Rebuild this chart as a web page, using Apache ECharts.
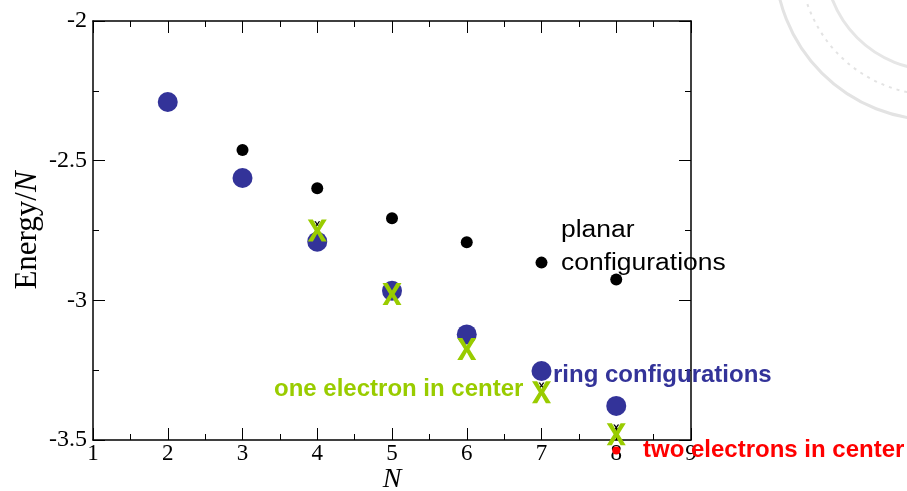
<!DOCTYPE html>
<html>
<head>
<meta charset="utf-8">
<script src="https://cdn.jsdelivr.net/npm/echarts@6/dist/echarts.min.js"></script>
<style>
  html, body { margin: 0; padding: 0; background: #fff; }
  #chart { width: 907px; height: 491px; }
</style>
</head>
<body>
<div id="chart"></div>
<script>
// energies per particle
var nRing = [2, 3, 4, 5, 6, 7, 8];
var eRing = [-2.29, -2.562, -2.79, -2.966, -3.122, -3.253, -3.378];

var nPlanar = [3, 4, 5, 6, 7, 8];
var ePlanar = [-2.462, -2.599, -2.706, -2.792, -2.865, -2.925];

var nOneCenter = [4, 5, 6, 7, 8];
var eOneCenter = [-2.75, -2.977, -3.174, -3.329, -3.479];

// small black crosses peeking out behind the green X marks
var nCross = [4, 7, 8];
var eCross = [-2.728, -3.305, -3.455];

var nTwoCenter = [8];
var eTwoCenter = [-3.538];

var xTicks = [1, 9];   // N axis range
var yTicks = [-3.5, -2]; // energy axis range

function pairs(xs, ys) {
  return xs.map(function (x, i) { return [x, ys[i]]; });
}

var serif = '"Liberation Serif", "DejaVu Serif", serif';
var sans = '"Liberation Sans", Arial, sans-serif';
var xMark = 'path://M0,0 H2.7 L5,3.5 L7.3,0 H10 L6.4,5 L10,10 H7.3 L5,6.5 L2.7,10 H0 L3.6,5 Z';

var frameLine = { lineStyle: { color: '#000', width: 1.5 } };
var majorTick = { inside: true, length: 12, lineStyle: { color: '#000', width: 1 } };
var minorTick = { show: true, splitNumber: 2, length: 6, lineStyle: { color: '#000', width: 1 } };

var chart = echarts.init(document.getElementById('chart'));

chart.setOption({
  animation: false,
  backgroundColor: '#fff',
  grid: { left: 93, top: 21, right: 216, bottom: 51, outerBoundsMode: 'none', containLabel: false },
  xAxis: [{
    type: 'value', position: 'bottom',
    min: xTicks[0], max: xTicks[1], interval: 1,
    axisLine: frameLine, axisTick: majorTick, minorTick: minorTick,
    splitLine: { show: false },
    axisLabel: { fontFamily: serif, fontSize: 23, color: '#000', margin: 2 },
    name: 'N', nameLocation: 'middle', nameGap: 26, nameMoveOverlap: false,
    nameTextStyle: { fontFamily: serif, fontStyle: 'italic', fontSize: 28, color: '#000' }
  }, {
    type: 'value', position: 'top',
    min: xTicks[0], max: xTicks[1], interval: 1,
    axisLine: frameLine, axisTick: majorTick, minorTick: minorTick,
    splitLine: { show: false }, axisLabel: { show: false }
  }],
  yAxis: [{
    type: 'value', position: 'left',
    min: yTicks[0], max: yTicks[1], interval: 0.5,
    axisLine: frameLine, axisTick: majorTick, minorTick: minorTick,
    splitLine: { show: false },
    axisLabel: { fontFamily: serif, fontSize: 24, color: '#000', margin: 6 },
    name: 'Energy/{i|N}', nameLocation: 'middle', nameGap: 50, nameMoveOverlap: false,
    nameTextStyle: {
      fontFamily: serif, fontSize: 31, color: '#000',
      rich: { i: { fontFamily: serif, fontStyle: 'italic', fontSize: 31, color: '#000' } }
    }
  }, {
    type: 'value', position: 'right',
    min: yTicks[0], max: yTicks[1], interval: 0.5,
    axisLine: frameLine, axisTick: majorTick, minorTick: minorTick,
    splitLine: { show: false }, axisLabel: { show: false }
  }],
  series: [{
    name: 'ring configurations', type: 'scatter', clip: false, silent: true,
    symbolSize: 20, itemStyle: { color: '#333399', opacity: 1 },
    data: pairs(nRing, eRing)
  }, {
    name: 'planar configurations', type: 'scatter', clip: false, silent: true,
    symbolSize: 12, itemStyle: { color: '#000', opacity: 1 },
    data: pairs(nPlanar, ePlanar)
  }, {
    name: 'cross', type: 'scatter', clip: false, silent: true,
    symbol: xMark, symbolSize: [6, 6], itemStyle: { color: '#000', opacity: 1 },
    data: pairs(nCross, eCross)
  }, {
    name: 'one electron in center', type: 'scatter', clip: false, silent: true,
    symbol: xMark, symbolSize: [19, 22], itemStyle: { color: '#99cc00', opacity: 1 },
    data: pairs(nOneCenter, eOneCenter)
  }, {
    name: 'two electrons in center', type: 'scatter', clip: false, silent: true,
    symbolSize: 8, itemStyle: { color: '#ff0000', opacity: 1 },
    data: pairs(nTwoCenter, eTwoCenter)
  }],
  graphic: [
    // faint seal in the corner
    { type: 'circle', silent: true, z: -1, shape: { cx: 935, cy: -40, r: 160 },
      style: { fill: 'none', stroke: '#e3e3e3', lineWidth: 3 } },
    { type: 'circle', silent: true, z: -1, shape: { cx: 935, cy: -40, r: 135 },
      style: { fill: 'none', stroke: '#e3e3e3', lineWidth: 2, lineDash: [3, 5] } },
    { type: 'circle', silent: true, z: -1, shape: { cx: 935, cy: -40, r: 110 },
      style: { fill: 'none', stroke: '#e6e6e6', lineWidth: 3 } },

    { type: 'text', x: 561, y: 231, scaleX: 1.15, silent: true, z: 10,
      style: { text: 'planar', font: '23px ' + sans, fill: '#000', verticalAlign: 'middle' } },
    { type: 'text', x: 561, y: 264, scaleX: 1.15, silent: true, z: 10,
      style: { text: 'configurations', font: '23px ' + sans, fill: '#000', verticalAlign: 'middle' } },
    { type: 'text', x: 553, y: 375, silent: true, z: 10,
      style: { text: 'ring configurations', font: 'bold 24px ' + sans, fill: '#333399', verticalAlign: 'middle' } },
    { type: 'text', x: 274, y: 389, silent: true, z: 10,
      style: { text: 'one electron in center', font: 'bold 24px ' + sans, fill: '#99cc00', verticalAlign: 'middle' } },
    { type: 'text', x: 643, y: 450, silent: true, z: 10,
      style: { text: 'two electrons in center', font: 'bold 24px ' + sans, fill: '#ff0000', verticalAlign: 'middle' } }
  ]
});
</script>
</body>
</html>
